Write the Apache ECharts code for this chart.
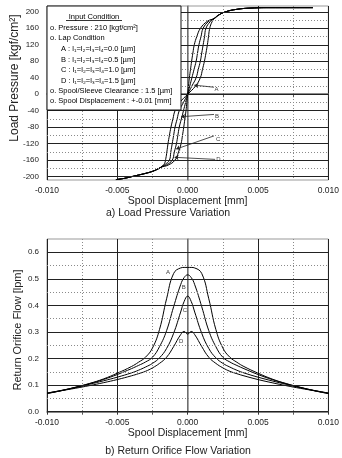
<!DOCTYPE html>
<html><head><meta charset="utf-8">
<script src="https://cdn.jsdelivr.net/npm/echarts@6/dist/echarts.min.js"></script>
<style>html,body{margin:0;padding:0;background:#fff}#c{width:342px;height:458px}</style>
</head><body><div id="c"></div>
<script>
const FONT = 'Liberation Sans, Arial, DejaVu Sans, sans-serif';

// ---- Chart a) Load pressure ----
const pressureTicks = [-200,-160,-120,-80,-40,0,40,80,120,160,200];
const pressureMinor = [-180,-140,-100,-60,-20,20,60,100,140,180];
const pressureTailLow = [[-0.0051,-207],[-0.0045,-204],[-0.004,-200],[-0.0035,-196],[-0.003,-192],[-0.0025,-187],[-0.0021,-181],[-0.0019,-177]];
const pressureTailHigh = [[0.0019,184],[0.0022,192],[0.0027,200],[0.0035,206],[0.0045,209],[0.006,210],[0.0089,210]];
const pressureA = [[-0.00165,-168],[-0.00155,-155],[-0.00148,-140],[-0.0014,-120],[-0.0013,-100],[-0.00119,-80],[-0.00105,-60],[-0.0009,-40],[-0.00056,-20],[0,0],[0.00056,20],[0.0009,40],[0.00105,60],[0.00119,80],[0.0013,100],[0.0014,120],[0.00148,140],[0.00155,157],[0.00168,172]];
const pressureB = [[-0.0016,-170],[-0.0013,-160],[-0.0012,-140],[-0.0011,-120],[-0.001,-100],[-0.0009,-80],[-0.00075,-60],[-0.0006,-40],[-0.0003,-20],[0,0],[0.0003,20],[0.0006,40],[0.00075,60],[0.0009,80],[0.001,100],[0.0011,120],[0.0012,140],[0.0013,160],[0.0016,176]];
const pressureC = [[-0.0015,-171],[-0.0011,-160],[-0.00095,-140],[-0.0008,-120],[-0.0007,-100],[-0.0006,-80],[-0.00045,-60],[-0.0003,-40],[-0.00015,-20],[0,0],[0.00015,20],[0.0003,40],[0.00045,60],[0.0006,80],[0.0007,100],[0.0008,120],[0.00095,140],[0.0011,160],[0.0015,177]];
const pressureD = [[-0.0014,-172],[-0.00091,-160],[-0.00065,-140],[-0.00047,-120],[-0.00037,-100],[-0.00028,-80],[-0.0002,-60],[-0.00012,-40],[-0.00006,-20],[0,0],[0.00006,20],[0.00012,40],[0.0002,60],[0.00028,80],[0.00037,100],[0.00047,120],[0.00065,140],[0.00091,160],[0.0014,177]];
// label anchor [x, y, name] and arrow [fromX, fromY, toX, toY]
const pressureLabels = [[0.00205,13,'A'],[0.00209,-54,'B'],[0.00216,-109,'C'],[0.00219,-158,'D']];
const pressureArrows = [[0.00187,17,0.00047,22],[0.00187,-49,-0.00047,-54.5],[0.00187,-101,-0.00082,-133],[0.00195,-158,-0.00093,-153]];

// ---- Chart b) Return orifice flow ----
const flowTicks = [0,0.1,0.2,0.3,0.4,0.5,0.6];
const flowMinor = [0.05,0.15,0.25,0.35,0.45,0.55];
const flowX = [-0.010,-0.009,-0.008,-0.007,-0.006,-0.005,-0.004,-0.0035,-0.003,-0.0025,-0.002,-0.0015,-0.001,-0.0005,-0.00025,0,0.00025,0.0005,0.001,0.0015,0.002,0.0025,0.003,0.0035,0.004,0.005,0.006,0.007,0.008,0.009,0.010];
const flowA = [0.068,0.079,0.092,0.106,0.123,0.145,0.170,0.186,0.205,0.240,0.310,0.425,0.520,0.541,0.543,0.543,0.543,0.541,0.520,0.425,0.310,0.240,0.205,0.186,0.170,0.145,0.123,0.106,0.092,0.079,0.068];
const flowB = [0.069,0.079,0.091,0.105,0.121,0.140,0.162,0.174,0.187,0.205,0.245,0.305,0.395,0.478,0.505,0.515,0.505,0.478,0.395,0.305,0.245,0.205,0.187,0.174,0.162,0.140,0.121,0.105,0.091,0.079,0.069];
const flowC = [0.070,0.080,0.091,0.103,0.116,0.130,0.146,0.156,0.168,0.182,0.203,0.238,0.295,0.375,0.415,0.435,0.415,0.375,0.295,0.238,0.203,0.182,0.168,0.156,0.146,0.130,0.116,0.103,0.091,0.080,0.070];
const flowD = [0.070,0.079,0.088,0.098,0.109,0.121,0.135,0.143,0.152,0.165,0.182,0.205,0.245,0.290,0.302,0.292,0.302,0.290,0.245,0.205,0.182,0.165,0.152,0.143,0.135,0.121,0.109,0.098,0.088,0.079,0.070];
const flowLabels = [[-0.0014,0.525,'A'],[-0.00028,0.468,'B'],[-0.00019,0.383,'C'],[-0.00047,0.266,'D']];

const boxLines = [
  'o. Pressure : 210 [kgf/cm\u00b2]',
  'o. Lap Condition',
  'A : l\u2081=l\u2082=l\u2083=l\u2084=0.0 [\u00b5m]',
  'B : l\u2081=l\u2082=l\u2083=l\u2084=0.5 [\u00b5m]',
  'C : l\u2081=l\u2082=l\u2083=l\u2084=1.0 [\u00b5m]',
  'D : l\u2081=l\u2082=l\u2083=l\u2084=1.5 [\u00b5m]',
  'o. Spool/Sleeve Clearance : 1.5 [\u00b5m]',
  'o. Spool Displacement : +-0.01 [mm]'
];
const boxLineX = [50,50,61,61,61,61,50,50];
const boxLineY = [27.5,38,49,59.5,70,80.5,91,101];

const xFmt = v => Math.abs(v) < 1e-9 ? '0.000' : v.toFixed(3);
const toPairs = (xs, ys) => xs.map((x,i)=>[x, ys[i]]);

function gridSeries(xi, major, minor) {
  return {
    type:'line', xAxisIndex:xi, yAxisIndex:xi, data:[[0, major[0]]], showSymbol:false,
    lineStyle:{opacity:0}, z:1, silent:true,
    markLine:{silent:true, symbol:'none', animation:false, label:{show:false},
      data:[
        ...minor.map(v=>({yAxis:v, lineStyle:{color:'#8a8a8a', width:1, type:[1,2]}})),
        ...major.map(v=>({yAxis:v, lineStyle:{color:'#222', width:1, type:'solid'}}))
      ]}
  };
}
function curve(xi, data, w, s) {
  return {type:'line', xAxisIndex:xi, yAxisIndex:xi, data, showSymbol:false, smooth:s||0.45,
    lineStyle:{color:'#000', width:w||1}, z:3, silent:true, animation:false};
}
function labels(xi, arr) {
  return {type:'scatter', xAxisIndex:xi, yAxisIndex:xi, data:arr, symbolSize:1,
    itemStyle:{color:'rgba(0,0,0,0)'}, z:6, silent:true, animation:false,
    label:{show:true, position:'inside', formatter:p=>p.value[2], fontSize:6, fontFamily:FONT, color:'#000'}};
}
function xAxis(gi) {
  return {type:'value', gridIndex:gi, min:-0.01, max:0.01, interval:0.005,
    axisLine:{show:true, lineStyle:{color:'#666', width:1.5}},
    axisTick:{show:true, inside:false, length:3, lineStyle:{color:'#333'}},
    minorTick:{show:true, splitNumber:2, length:3, lineStyle:{color:'#555'}},
    splitLine:{show:true, lineStyle:{color:'#222', width:1}},
    minorSplitLine:{show:true, lineStyle:{color:'#8a8a8a', width:1, type:[1,2]}},
    axisLabel:{formatter:xFmt, fontSize:8.5, fontFamily:FONT, color:'#222', margin:6},
    name:'Spool Displacement [mm]', nameLocation:'middle', nameGap: gi===0?14:15,
    nameTextStyle:{fontSize:10.5, fontFamily:FONT, color:'#222', verticalAlign:'top'}
  };
}

const lowJoin = pressureTailLow[pressureTailLow.length-1];
const highJoin = pressureTailHigh[0];
const option = {
  animation:false,
  backgroundColor:'#fff',
  grid:[
    {left:47, right:9, top:6, bottom:278, show:true, borderColor:'#999', borderWidth:1},
    {left:47, right:9, top:239, bottom:46.3, show:true, borderColor:'#999', borderWidth:1}
  ],
  xAxis:[xAxis(0), xAxis(1)],
  yAxis:[
    {type:'value', gridIndex:0, min:-208, max:214,
      axisLine:{show:true, lineStyle:{color:'#888', width:1.5}},
      axisTick:{show:true, length:3, customValues:pressureTicks, lineStyle:{color:'#333'}},
      axisLabel:{customValues:pressureTicks, fontSize:8, fontFamily:FONT, color:'#222', margin:8},
      splitLine:{show:false}},
    {type:'value', gridIndex:1, min:0, max:0.65,
      axisLine:{show:true, lineStyle:{color:'#888', width:1.5}},
      axisTick:{show:true, length:3, customValues:flowTicks, lineStyle:{color:'#333'}},
      axisLabel:{customValues:flowTicks, formatter:v=>v.toFixed(1), fontSize:8, fontFamily:FONT, color:'#222', margin:8},
      splitLine:{show:false}}
  ],
  series:[
    gridSeries(0, pressureTicks, pressureMinor),
    gridSeries(1, flowTicks, flowMinor),
    curve(0, [...pressureTailLow, ...pressureA, ...pressureTailHigh]),
    curve(0, [...pressureTailLow, ...pressureB, ...pressureTailHigh]),
    curve(0, [...pressureTailLow, ...pressureC, ...pressureTailHigh]),
    curve(0, [...pressureTailLow, ...pressureD, ...pressureTailHigh]),
    {type:'line', xAxisIndex:0, yAxisIndex:0, data:[[0,0]], showSymbol:false, lineStyle:{opacity:0}, z:5, silent:true,
      markLine:{silent:true, animation:false, symbol:['none','arrow'], symbolSize:4, label:{show:false},
        lineStyle:{color:'#222', width:0.8, type:'solid'},
        data: pressureArrows.map(a=>[{coord:[a[0],a[1]]},{coord:[a[2],a[3]]}])}},
    labels(0, pressureLabels),
    curve(1, toPairs(flowX, flowA)),
    curve(1, toPairs(flowX, flowB)),
    curve(1, toPairs(flowX, flowC)),
    curve(1, toPairs(flowX, flowD)),
    labels(1, flowLabels)
  ],
  graphic:[
    {type:'rect', z:100, shape:{x:47, y:6, width:134, height:104}, style:{fill:'#fff', stroke:'#111', lineWidth:1}},
    {type:'text', z:101, x:94, y:16.5, style:{text:'Input Condition', font:'7.5px '+FONT, fill:'#000', align:'center', verticalAlign:'middle'}},
    {type:'line', z:101, shape:{x1:66, y1:20.5, x2:122, y2:20.5}, style:{stroke:'#000', lineWidth:0.8}},
    ...boxLines.map((t,i)=>({type:'text', z:101, x:boxLineX[i], y:boxLineY[i],
      style:{text:t, font:'7.5px '+FONT, fill:'#000', align:'left', verticalAlign:'middle'}})),
    {type:'text', z:101, x:15, y:78, rotation:Math.PI/2,
      style:{text:'Load Pressure [kgf/cm\u00b2]', font:'12px '+FONT, fill:'#222', align:'center', verticalAlign:'middle'}},
    {type:'text', z:101, x:18, y:330, rotation:Math.PI/2,
      style:{text:'Return Orifice Flow [lpm]', font:'11px '+FONT, fill:'#222', align:'center', verticalAlign:'middle'}},
    {type:'text', z:101, x:168, y:213, style:{text:'a) Load Pressure Variation', font:'10.5px '+FONT, fill:'#222', align:'center', verticalAlign:'middle'}},
    {type:'text', z:101, x:178, y:451, style:{text:'b) Return Orifice Flow Variation', font:'10.5px '+FONT, fill:'#222', align:'center', verticalAlign:'middle'}}
  ]
};
const chart = echarts.init(document.getElementById('c'), null, {renderer:'canvas'});
chart.setOption(option);
</script></body></html>
